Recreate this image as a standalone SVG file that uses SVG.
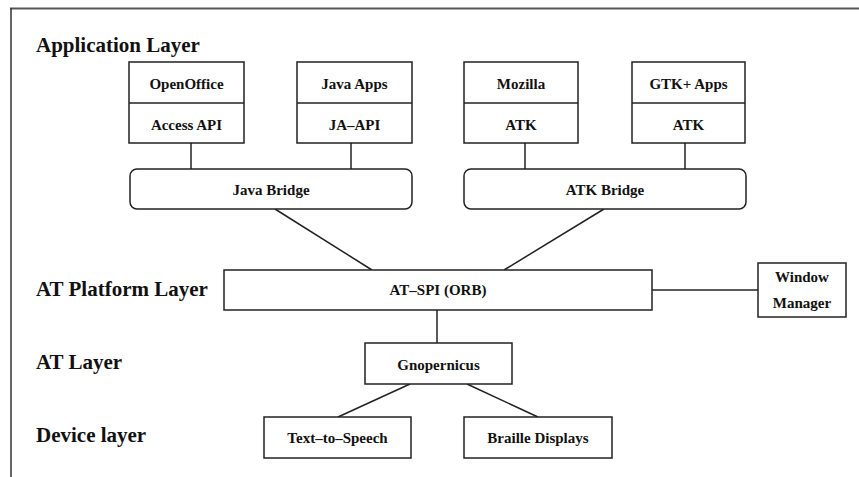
<svg xmlns="http://www.w3.org/2000/svg" width="859" height="477" viewBox="0 0 859 477">
<style>
.box{fill:#fff;stroke:#222;stroke-width:1.5}
.ln{stroke:#222;stroke-width:1.5;fill:none}
.t{font-family:"Liberation Serif",serif;font-weight:bold;font-size:15px;fill:#111;text-anchor:middle}
.lab{font-family:"Liberation Serif",serif;font-weight:bold;font-size:21px;fill:#111}
</style>
<rect width="859" height="477" fill="#fff"/>
<g id="frame">
<line x1="10" y1="8.5" x2="859" y2="8.5" stroke="#555" stroke-width="2"/>
<line x1="11" y1="8" x2="11" y2="477" stroke="#333" stroke-width="1.5"/>
</g>
<g id="labels">
<text class="lab" x="36" y="52">Application Layer</text>
<text class="lab" x="36" y="296">AT Platform Layer</text>
<text class="lab" x="36" y="369">AT Layer</text>
<text class="lab" x="36" y="442">Device layer</text>
</g>
<g id="connectors">
<line class="ln" x1="191" y1="143" x2="191" y2="169"/>
<line class="ln" x1="351" y1="143" x2="351" y2="169"/>
<line class="ln" x1="525" y1="143" x2="525" y2="169"/>
<line class="ln" x1="685" y1="143" x2="685" y2="169"/>
<line class="ln" x1="275" y1="209" x2="372" y2="270"/>
<line class="ln" x1="604" y1="209" x2="504" y2="270"/>
<line class="ln" x1="652" y1="290" x2="758" y2="290"/>
<line class="ln" x1="437" y1="310" x2="437" y2="343"/>
<line class="ln" x1="410" y1="384" x2="338" y2="417"/>
<line class="ln" x1="467" y1="384" x2="538" y2="417"/>
</g>
<g id="openoffice">
<rect class="box" x="129" y="62" width="115" height="81"/>
<line class="ln" x1="129" y1="103" x2="244" y2="103"/>
<text class="t" x="186.5" y="89">OpenOffice</text>
<text class="t" x="186.5" y="130">Access API</text>
</g>
<g id="javaapps">
<rect class="box" x="297" y="62" width="115" height="81"/>
<line class="ln" x1="297" y1="103" x2="412" y2="103"/>
<text class="t" x="354.5" y="89">Java Apps</text>
<text class="t" x="354.5" y="130">JA–API</text>
</g>
<g id="mozilla">
<rect class="box" x="464" y="62" width="114" height="81"/>
<line class="ln" x1="464" y1="103" x2="578" y2="103"/>
<text class="t" x="521" y="89">Mozilla</text>
<text class="t" x="521" y="130">ATK</text>
</g>
<g id="gtkapps">
<rect class="box" x="632" y="62" width="113" height="81"/>
<line class="ln" x1="632" y1="103" x2="745" y2="103"/>
<text class="t" x="688.5" y="89">GTK+ Apps</text>
<text class="t" x="688.5" y="130">ATK</text>
</g>
<g id="javabridge">
<rect class="box" x="130" y="169" width="282" height="40" rx="7"/>
<text class="t" x="271" y="195">Java Bridge</text>
</g>
<g id="atkbridge">
<rect class="box" x="464" y="169" width="282" height="40" rx="7"/>
<text class="t" x="605" y="195">ATK Bridge</text>
</g>
<g id="atspi">
<rect class="box" x="224" y="270" width="428" height="40"/>
<text class="t" x="438" y="295">AT–SPI (ORB)</text>
</g>
<g id="windowmanager">
<rect class="box" x="758" y="263" width="88" height="54"/>
<text class="t" x="802" y="282">Window</text>
<text class="t" x="802" y="308">Manager</text>
</g>
<g id="gnopernicus">
<rect class="box" x="365" y="343" width="147" height="41"/>
<text class="t" x="438.5" y="370">Gnopernicus</text>
</g>
<g id="tts">
<rect class="box" x="264" y="417" width="147" height="41"/>
<text class="t" x="337.5" y="443">Text–to–Speech</text>
</g>
<g id="braille">
<rect class="box" x="464" y="417" width="148" height="41"/>
<text class="t" x="538" y="443">Braille Displays</text>
</g>
</svg>
